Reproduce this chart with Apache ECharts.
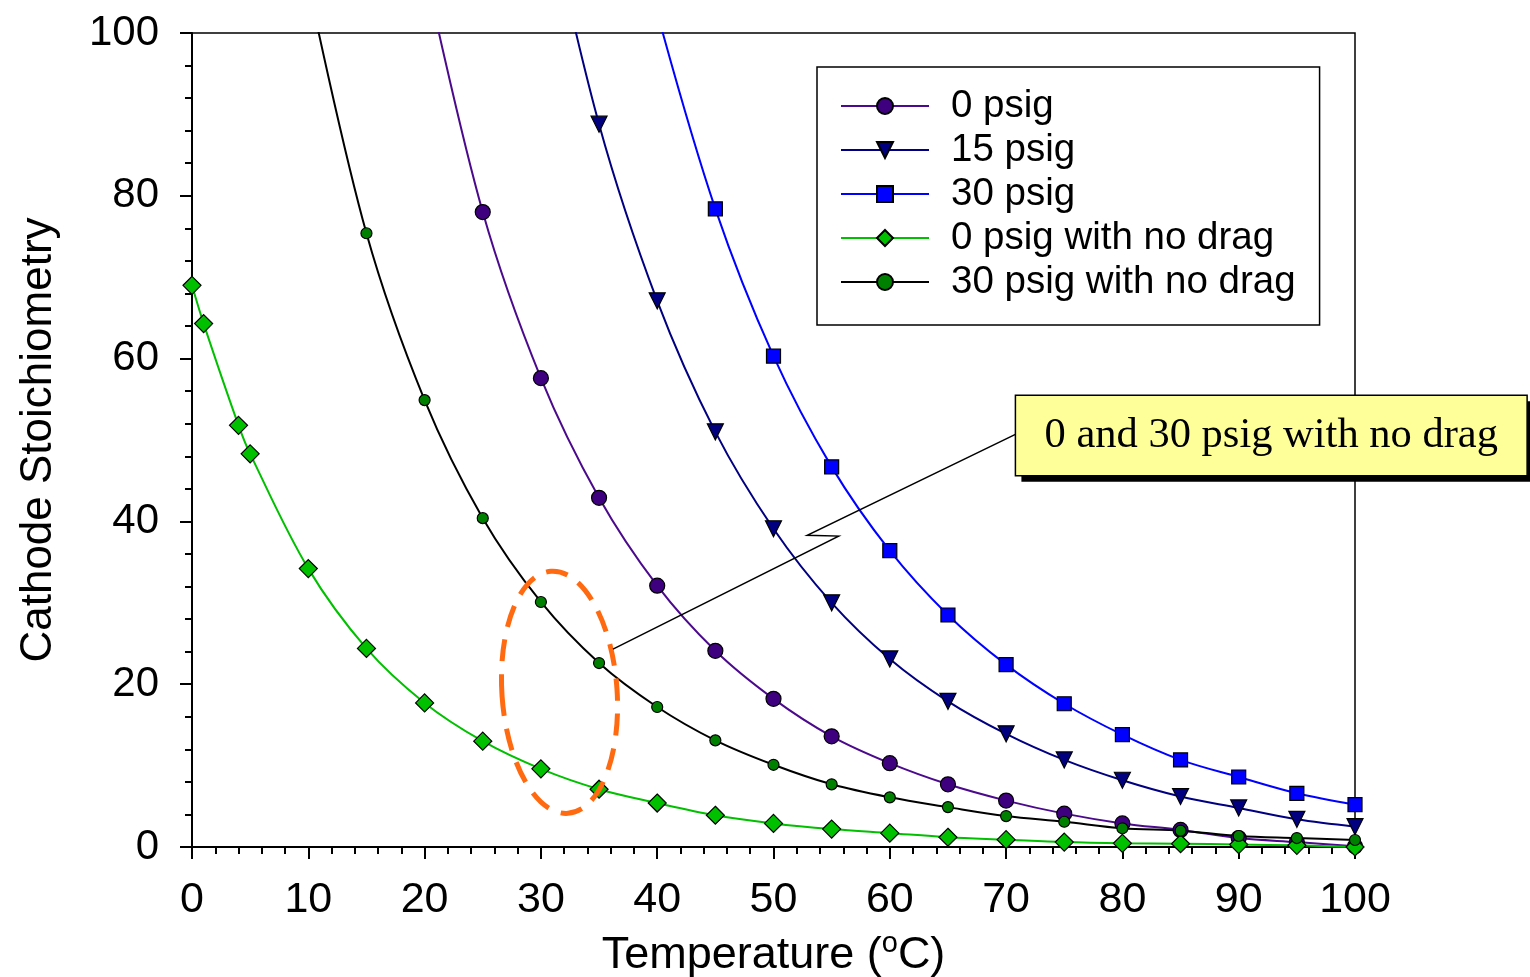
<!DOCTYPE html>
<html>
<head>
<meta charset="utf-8">
<title>Cathode Stoichiometry</title>
<script src="https://cdn.jsdelivr.net/npm/echarts@6/dist/echarts.min.js"></script>
<style>
  html, body { margin: 0; padding: 0; background: #fff; }
  #chart { width: 1530px; height: 977px; }
</style>
</head>
<body>
<div id="chart"></div>
<script>
// temperatures (deg C) and stoichiometry
// first point of some series sits above 100 and gets clipped by the grid
const tPsig0 = [20, 25, 30, 35, 40, 45, 50, 55, 60, 65, 70, 75, 80, 85, 90, 95, 100];
const yPsig0 = [108, 78.0, 57.6, 42.9, 32.1, 24.1, 18.2, 13.6, 10.3, 7.7, 5.7, 4.1, 2.9, 2.1, 1.1, 0.6, 0.1];

const tPsig15 = [30, 35, 40, 45, 50, 55, 60, 65, 70, 75, 80, 85, 90, 95, 100];
const yPsig15 = [119, 88.8, 67.1, 51.0, 39.1, 30.0, 23.1, 17.9, 13.9, 10.7, 8.2, 6.2, 4.8, 3.4, 2.5];

const tPsig30 = [40, 45, 50, 55, 60, 65, 70, 75, 80, 85, 90, 95, 100];
const yPsig30 = [102.5, 78.4, 60.3, 46.7, 36.4, 28.5, 22.4, 17.6, 13.8, 10.7, 8.6, 6.6, 5.2];

const tNoDrag0 = [0, 1, 4, 5, 10, 15, 20, 25, 30, 35, 40, 45, 50, 55, 60, 65, 70, 75, 80, 85, 90, 95, 100];
const yNoDrag0 = [69.0, 64.3, 51.8, 48.3, 34.2, 24.4, 17.7, 13.0, 9.6, 7.1, 5.4, 3.9, 2.9, 2.2, 1.7, 1.2, 0.9, 0.6, 0.45, 0.4, 0.3, 0.2, 0.0];

const tNoDrag30 = [10, 15, 20, 25, 30, 35, 40, 45, 50, 55, 60, 65, 70, 75, 80, 85, 90, 95, 100];
const yNoDrag30 = [106, 75.4, 54.9, 40.4, 30.1, 22.6, 17.2, 13.1, 10.1, 7.7, 6.1, 4.9, 3.8, 3.1, 2.3, 2.0, 1.35, 1.1, 0.86];

const seriesNames = ['0 psig', '15 psig', '30 psig', '0 psig with no drag', '30 psig with no drag'];
const noteText = '0 and 30 psig with no drag';

function pairs(xs, ys) {
  return xs.map(function (x, i) { return [x, ys[i]]; });
}

const myChart = echarts.init(document.getElementById('chart'));

function mkSeries(name, xs, ys, lineColor, symbol, size, fill) {
  return {
    name: name,
    type: 'line',
    data: pairs(xs, ys),
    smooth: 0.35,
    clip: true,
    symbol: symbol,
    symbolSize: size,
    showAllSymbol: true,
    lineStyle: { color: lineColor, width: 2 },
    itemStyle: { color: fill, borderColor: '#000', borderWidth: 1.2 },
    emphasis: { disabled: true },
    animation: false
  };
}

const labelFont = 'Liberation Sans, Arial, sans-serif';

myChart.setOption({
  backgroundColor: '#fff',
  animation: false,
  grid: {
    left: 192, right: 175, top: 33, bottom: 130,
    outerBoundsMode: 'none',
    show: true, borderColor: '#000', borderWidth: 1.5, backgroundColor: 'transparent'
  },
  legend: {
    data: seriesNames,
    orient: 'vertical',
    left: 817,
    top: 67,
    padding: [17, 24, 21, 23],
    itemGap: 0,
    itemWidth: 88,
    itemHeight: 20,
    backgroundColor: '#fff',
    borderColor: '#000',
    borderWidth: 1.5,
    selectedMode: false,
    textStyle: { fontFamily: labelFont, fontSize: 38.5, color: '#000', lineHeight: 44, padding: [0, 0, 0, 17] }
  },
  xAxis: {
    type: 'value',
    min: 0, max: 100, interval: 10,
    name: '{a|Temperature (}{s|o}{a|C)}',
    nameLocation: 'middle',
    nameGap: 82,
    nameTextStyle: {
      rich: {
        a: { fontFamily: labelFont, fontSize: 45, color: '#000' },
        s: { fontFamily: labelFont, fontSize: 29, color: '#000', padding: [0, 0, 24, 0] }
      }
    },
    axisLine: { show: true, lineStyle: { color: '#000', width: 2 } },
    axisTick: { show: true, length: 12, lineStyle: { color: '#000', width: 2 } },
    minorTick: { show: true, splitNumber: 5, length: 7, lineStyle: { color: '#000', width: 2 } },
    splitLine: { show: false },
    axisLabel: { fontFamily: labelFont, fontSize: 43, color: '#000', margin: 32 }
  },
  yAxis: {
    type: 'value',
    min: 0, max: 100, interval: 20,
    name: 'Cathode Stoichiometry',
    nameLocation: 'middle',
    nameGap: 131,
    nameTextStyle: { fontFamily: labelFont, fontSize: 44, color: '#000' },
    axisLine: { show: true, lineStyle: { color: '#000', width: 2 } },
    axisTick: { show: true, length: 12, lineStyle: { color: '#000', width: 2 } },
    minorTick: { show: true, splitNumber: 5, length: 7, lineStyle: { color: '#000', width: 2 } },
    splitLine: { show: false },
    axisLabel: { fontFamily: labelFont, fontSize: 42, color: '#000', margin: 33 }
  },
  series: [
    mkSeries(seriesNames[0], tPsig0, yPsig0, '#4b0a8c', 'circle', 15, '#3f007f'),
    mkSeries(seriesNames[1], tPsig15, yPsig15, '#000080', 'triangle', 16, '#000080'),
    mkSeries(seriesNames[2], tPsig30, yPsig30, '#0000ff', 'rect', 14, '#0000ff'),
    mkSeries(seriesNames[3], tNoDrag0, yNoDrag0, '#00c000', 'diamond', 18, '#00c000'),
    mkSeries(seriesNames[4], tNoDrag30, yNoDrag30, '#000000', 'circle', 11, '#008000')
  ]
});

// triangles point down in the reference
myChart.setOption({ series: [{}, { symbolRotate: 180 }] });

// annotations placed through the chart's own scales
function px(x, y) { return myChart.convertToPixel({ gridIndex: 0 }, [x, y]); }

const ellC = px(31.6, 19.0);
const ellR = px(36.55, 4.1);
const boxTL = px(70.8, 55.5);
const boxBR = px(114.8, 45.6);
const lp0 = px(70.8, 50.7);
const lp1 = px(52.9, 38.3);
const lp2 = px(55.6, 38.2);
const lp3 = px(36.2, 24.3);

myChart.setOption({
  graphic: [
    {
      type: 'ellipse',
      shape: { cx: ellC[0], cy: ellC[1], rx: ellR[0] - ellC[0], ry: ellR[1] - ellC[1] },
      originX: ellC[0], originY: ellC[1],
      rotation: 0.07,
      style: { fill: null, stroke: '#ff6a10', lineWidth: 5, lineDash: [22, 13] },
      z: 100
    },
    {
      type: 'polyline',
      shape: { points: [lp0, lp1, lp2, lp3] },
      style: { fill: null, stroke: '#000', lineWidth: 1.5 },
      z: 100
    },
    {
      type: 'rect',
      shape: { x: boxTL[0] + 6, y: boxTL[1] + 6, width: boxBR[0] - boxTL[0], height: boxBR[1] - boxTL[1] },
      style: { fill: '#000' },
      z: 101
    },
    {
      type: 'rect',
      shape: { x: boxTL[0], y: boxTL[1], width: boxBR[0] - boxTL[0], height: boxBR[1] - boxTL[1] },
      style: { fill: '#ffff99', stroke: '#000', lineWidth: 1.5 },
      z: 102
    },
    {
      type: 'text',
      x: (boxTL[0] + boxBR[0]) / 2,
      y: (boxTL[1] + boxBR[1]) / 2,
      style: {
        text: noteText,
        fontFamily: 'Liberation Serif, Times New Roman, serif',
        fontSize: 42.5,
        fill: '#000',
        align: 'center',
        verticalAlign: 'middle'
      },
      z: 103
    }
  ]
});
</script>
</body>
</html>
